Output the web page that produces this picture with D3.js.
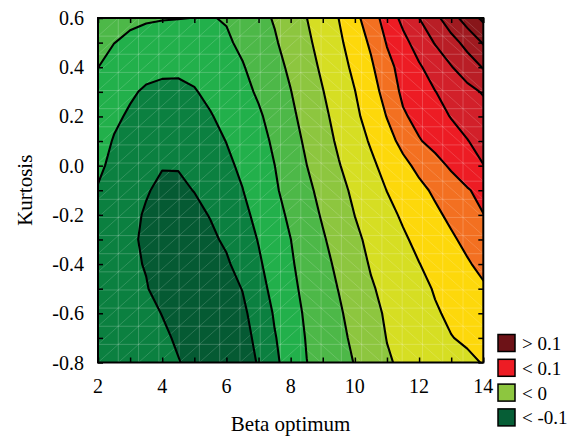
<!DOCTYPE html>
<html>
<head>
<meta charset="utf-8">
<script src="https://cdn.jsdelivr.net/npm/d3@7"></script>
<style>
  body { margin: 0; background: #fff; }
</style>
</head>
<body>
<script>
// grid positions (Beta optimum across, Kurtosis down from the top row)
const betaGrid = [2, 2.5, 3, 3.5, 4, 4.5, 5, 5.5, 6, 6.5, 7, 7.5, 8, 8.5, 9, 9.5, 10, 10.5, 11, 11.5, 12, 12.5, 13, 13.5, 14]
const kurtosisGrid = [0.6, 0.5, 0.4, 0.3, 0.2, 0.1, 0.0, -0.1, -0.2, -0.3, -0.4, -0.5, -0.6, -0.7, -0.8]

// surface values, one row per kurtosis value
const zRows = [
  [-0.040, -0.043, -0.046, -0.048, -0.049, -0.0495, -0.0502, -0.051, -0.0485, -0.0392, -0.0315, -0.0232, -0.0117, -0.0002, 0.0125, 0.0253, 0.0432, 0.0634, 0.0855, 0.1063, 0.125, 0.1434, 0.1645, 0.1866, 0.205],
  [-0.046, -0.0497, -0.054, -0.057, -0.059, -0.059, -0.058, -0.056, -0.053, -0.0458, -0.0366, -0.0274, -0.0162, -0.0043, 0.0081, 0.0207, 0.036, 0.0538, 0.0767, 0.0933, 0.11, 0.1265, 0.1412, 0.1577, 0.177],
  [-0.0498, -0.058, -0.064, -0.068, -0.0705, -0.0705, -0.069, -0.066, -0.060, -0.0515, -0.0417, -0.0319, -0.0213, -0.0088, 0.0038, 0.0163, 0.0299, 0.0461, 0.0673, 0.0839, 0.0973, 0.1105, 0.1237, 0.1375, 0.1514],
  [-0.0553, -0.064, -0.072, -0.078, -0.080, -0.0805, -0.0765, -0.070, -0.0635, -0.057, -0.0468, -0.0362, -0.0256, -0.0133, -0.0008, 0.0119, 0.0245, 0.0404, 0.0586, 0.0802, 0.0889, 0.0995, 0.109, 0.1179, 0.127],
  [-0.0606, -0.071, -0.078, -0.0825, -0.085, -0.0855, -0.082, -0.0765, -0.0688, -0.061, -0.0535, -0.0409, -0.0295, -0.0175, -0.005, 0.0075, 0.02, 0.0346, 0.0508, 0.0717, 0.0826, 0.0918, 0.101, 0.108, 0.115],
  [-0.0659, -0.0765, -0.083, -0.088, -0.0915, -0.092, -0.088, -0.081, -0.0746, -0.0683, -0.0588, -0.0458, -0.0336, -0.0213, -0.0088, 0.0035, 0.0152, 0.0273, 0.0415, 0.0567, 0.0733, 0.0825, 0.0908, 0.0992, 0.1075],
  [-0.0711, -0.080, -0.088, -0.095, -0.099, -0.099, -0.095, -0.088, -0.079, -0.0713, -0.0625, -0.0502, -0.0375, -0.0252, -0.0131, -0.0012, 0.0098, 0.0207, 0.0321, 0.044, 0.0557, 0.067, 0.0784, 0.0891, 0.0995],
  [-0.0764, -0.083, -0.091, -0.0985, -0.104, -0.1035, -0.0995, -0.091, -0.083, -0.0755, -0.0645, -0.053, -0.0415, -0.030, -0.0184, -0.0066, 0.0046, 0.015, 0.0254, 0.0349, 0.0443, 0.0538, 0.0635, 0.0731, 0.082],
  [-0.080, -0.087, -0.095, -0.102, -0.107, -0.108, -0.105, -0.099, -0.0885, -0.080, -0.0697, -0.0577, -0.0458, -0.0343, -0.0227, -0.0114, 0.0003, 0.0094, 0.0188, 0.028, 0.0368, 0.0456, 0.0549, 0.0647, 0.0745],
  [-0.083, -0.090, -0.097, -0.103, -0.109, -0.111, -0.109, -0.104, -0.0966, -0.0852, -0.074, -0.062, -0.0502, -0.0386, -0.0273, -0.0159, -0.0045, 0.0051, 0.0135, 0.022, 0.0303, 0.0385, 0.0467, 0.0556, 0.065],
  [-0.085, -0.091, -0.097, -0.101, -0.108, -0.112, -0.112, -0.109, -0.103, -0.0912, -0.078, -0.0652, -0.0525, -0.0417, -0.0313, -0.0204, -0.0088, 0.0018, 0.0094, 0.017, 0.0245, 0.0322, 0.040, 0.0477, 0.056],
  [-0.087, -0.092, -0.096, -0.099, -0.106, -0.111, -0.113, -0.111, -0.106, -0.0995, -0.0829, -0.0686, -0.0553, -0.0441, -0.0343, -0.0243, -0.0133, -0.0022, 0.0056, 0.0125, 0.0194, 0.0266, 0.0333, 0.0402, 0.047],
  [-0.088, -0.092, -0.095, -0.097, -0.1003, -0.107, -0.111, -0.111, -0.107, -0.1035, -0.092, -0.0725, -0.0588, -0.0466, -0.0372, -0.0278, -0.0173, -0.0064, 0.0028, 0.0095, 0.0163, 0.023, 0.0283, 0.0344, 0.040],
  [-0.089, -0.092, -0.094, -0.096, -0.098, -0.1015, -0.106, -0.108, -0.107, -0.1035, -0.0975, -0.0766, -0.0621, -0.0486, -0.0395, -0.0304, -0.0207, -0.0098, 0.0006, 0.0065, 0.0125, 0.0185, 0.0244, 0.0278, 0.031],
  [-0.090, -0.092, -0.094, -0.096, -0.098, -0.0995, -0.103, -0.105, -0.105, -0.103, -0.0995, -0.0798, -0.0645, -0.0503, -0.0416, -0.033, -0.0241, -0.0132, -0.0022, 0.0036, 0.008, 0.0125, 0.017, 0.0214, 0.0259]
]

const levels = [-0.1, -0.075, -0.05, -0.025, 0, 0.025, 0.05, 0.075, 0.1, 0.125, 0.15, 0.175, 0.2]
// first colour is below the lowest level, then one per level
const bandColors = ['#055a33', '#0b8040', '#22b04b', '#4db848', '#8dc63f', '#d6de23', '#fdd80b',
  '#f37021', '#ed1c24', '#d2202a', '#b91e26', '#a01a20', '#88161a', '#701216']

const xTicks = [2, 3, 4, 5, 6, 7, 8, 9, 10, 11, 12, 13, 14]
const xTickLabels = ['2', '', '4', '', '6', '', '8', '', '10', '', '12', '', '14']
const yTicks = [-0.8, -0.7, -0.6, -0.5, -0.4, -0.3, -0.2, -0.1, 0.0, 0.1, 0.2, 0.3, 0.4, 0.5, 0.6]
const yTickLabels = ['-0.8', '', '-0.6', '', '-0.4', '', '-0.2', '', '0.0', '', '0.2', '', '0.4', '', '0.6']

const legendLabels = ['> 0.1', '< 0.1', '< 0', '< -0.1']
const legendColors = ['#6d1217', '#ed1c24', '#8dc63f', '#065e36']

const size = { width: 579, height: 437 }
const plot = { left: 98, right: 483.3, top: 18, bottom: 362.5 }
const serif = '"Liberation Serif", "Times New Roman", serif'

const svg = d3.select('body')
  .append('svg')
  .attr('width', size.width)
  .attr('height', size.height)

const xScale = d3.scaleLinear().domain([2, 14]).range([plot.left, plot.right])
const yScale = d3.scaleLinear().domain([-0.8, 0.6]).range([plot.bottom, plot.top])

// d3.contours puts grid value i at i + 0.5
const nx = betaGrid.length, ny = kurtosisGrid.length
const gx = d3.scaleLinear().domain([0.5, nx - 0.5]).range([xScale(betaGrid[0]), xScale(betaGrid[nx - 1])])
const gy = d3.scaleLinear().domain([0.5, ny - 0.5]).range([yScale(kurtosisGrid[0]), yScale(kurtosisGrid[ny - 1])])
const path = d3.geoPath(d3.geoTransform({
  point: function(x, y) { this.stream.point(gx(x), gy(y)) }
}))

const contours = d3.contours()
  .size([nx, ny])
  .thresholds(levels)(zRows.flat())

svg.append('clipPath').attr('id', 'clip')
  .append('rect')
  .attr('x', plot.left).attr('y', plot.top)
  .attr('width', plot.right - plot.left).attr('height', plot.bottom - plot.top)

const area = svg.append('g').attr('clip-path', 'url(#clip)')

area.append('rect')
  .attr('x', plot.left).attr('y', plot.top)
  .attr('width', plot.right - plot.left).attr('height', plot.bottom - plot.top)
  .attr('fill', bandColors[0])

area.selectAll('path.band')
  .data(contours)
  .enter()
  .append('path')
  .attr('class', 'band')
  .attr('d', path)
  .attr('fill', (d, i) => bandColors[i + 1])

// faint triangulation mesh (20 x 20 grid nodes)
const meshX = d3.range(0, 20).map(i => 2 + i * 12 / 19)
const meshY = d3.range(0, 20).map(i => -0.8 + i * 1.4 / 19)
const mesh = area.append('g')
  .attr('stroke', '#fff')
  .attr('stroke-width', 0.8)

mesh.selectAll('line.v').data(meshX).enter().append('line')
  .attr('x1', d => xScale(d)).attr('x2', d => xScale(d))
  .attr('y1', plot.top).attr('y2', plot.bottom)
  .attr('stroke-opacity', 0.26)
mesh.selectAll('line.h').data(meshY).enter().append('line')
  .attr('y1', d => yScale(d)).attr('y2', d => yScale(d))
  .attr('x1', plot.left).attr('x2', plot.right)
  .attr('stroke-opacity', 0.26)

const cells = []
for (let i = 0; i < 19; i++) {
  for (let j = 0; j < 19; j++) cells.push({ i: i, j: j })
}
mesh.selectAll('line.d').data(cells).enter().append('line')
  .attr('x1', d => xScale(meshX[d.i]))
  .attr('x2', d => xScale(meshX[d.i + 1]))
  .attr('y1', d => d.i < 10 ? yScale(meshY[d.j]) : yScale(meshY[d.j + 1]))
  .attr('y2', d => d.i < 10 ? yScale(meshY[d.j + 1]) : yScale(meshY[d.j]))
  .attr('stroke-opacity', 0.2)

area.selectAll('path.iso')
  .data(contours)
  .enter()
  .append('path')
  .attr('class', 'iso')
  .attr('d', path)
  .attr('fill', 'none')
  .attr('stroke', '#000')
  .attr('stroke-width', 2.1)
  .attr('stroke-linejoin', 'round')

// frame
svg.append('rect')
  .attr('x', plot.left).attr('y', plot.top)
  .attr('width', plot.right - plot.left).attr('height', plot.bottom - plot.top)
  .attr('fill', 'none')
  .attr('stroke', '#000')
  .attr('stroke-width', 2)

// inward ticks on all four sides
const tickLen = 5
svg.append('g')
  .attr('transform', 'translate(0,' + plot.bottom + ')')
  .call(d3.axisBottom(xScale).tickValues(xTicks).tickSize(-tickLen).tickFormat(''))
svg.append('g')
  .attr('transform', 'translate(0,' + plot.top + ')')
  .call(d3.axisTop(xScale).tickValues(xTicks).tickSize(-tickLen).tickFormat(''))
svg.append('g')
  .attr('transform', 'translate(' + plot.left + ',0)')
  .call(d3.axisLeft(yScale).tickValues(yTicks).tickSize(-tickLen).tickFormat(''))
svg.append('g')
  .attr('transform', 'translate(' + plot.right + ',0)')
  .call(d3.axisRight(yScale).tickValues(yTicks).tickSize(-tickLen).tickFormat(''))
svg.selectAll('.domain').remove()
svg.selectAll('.tick line').attr('stroke', '#000').attr('stroke-width', 1.5)

svg.selectAll('text.xlab')
  .data(xTicks)
  .enter()
  .append('text')
  .attr('x', d => xScale(d))
  .attr('y', 393)
  .attr('text-anchor', 'middle')
  .style('font-family', serif)
  .style('font-size', '20px')
  .text((d, i) => xTickLabels[i])

svg.selectAll('text.ylab')
  .data(yTicks)
  .enter()
  .append('text')
  .attr('x', 84)
  .attr('y', d => yScale(d) + 7)
  .attr('text-anchor', 'end')
  .style('font-family', serif)
  .style('font-size', '20px')
  .text((d, i) => yTickLabels[i])

svg.append('text')
  .attr('x', (plot.left + plot.right) / 2)
  .attr('y', 431)
  .attr('text-anchor', 'middle')
  .style('font-family', serif)
  .style('font-size', '21px')
  .text('Beta optimum')

svg.append('text')
  .attr('transform', 'translate(32,' + (plot.top + plot.bottom) / 2 + ')rotate(-90)')
  .attr('text-anchor', 'middle')
  .style('font-family', serif)
  .style('font-size', '21px')
  .text('Kurtosis')

// legend
const legend = svg.append('g')
legend.selectAll('rect')
  .data(legendLabels)
  .enter()
  .append('rect')
  .attr('x', 498)
  .attr('y', (d, i) => 334.5 + i * 24.8)
  .attr('width', 17)
  .attr('height', 17)
  .attr('fill', (d, i) => legendColors[i])
  .attr('stroke', '#000')
  .attr('stroke-width', 1.5)

legend.selectAll('text')
  .data(legendLabels)
  .enter()
  .append('text')
  .attr('x', 522)
  .attr('y', (d, i) => 350 + i * 24.8)
  .style('font-family', serif)
  .style('font-size', '19px')
  .text(d => d)
</script>
</body>
</html>
